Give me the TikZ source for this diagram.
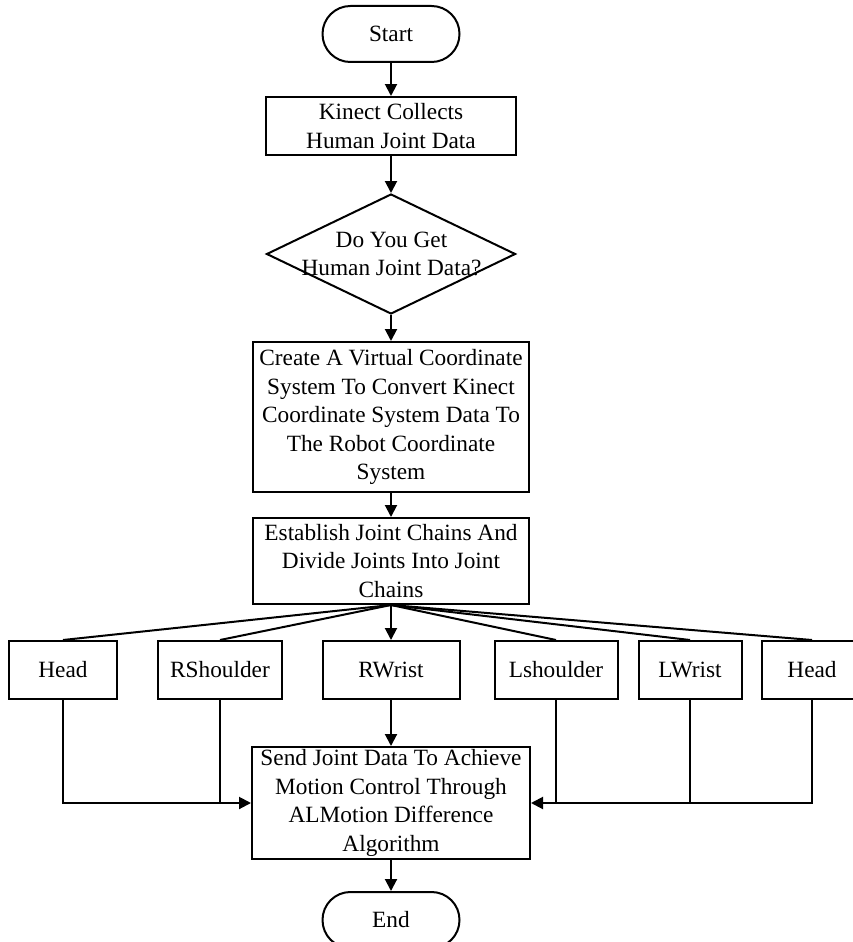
\documentclass[tikz,border=0pt]{standalone}
\usepackage{fontspec}
\setmainfont{Liberation Serif}
\usetikzlibrary{arrows.meta,shapes.geometric}
\begin{document}
\begin{tikzpicture}[x=1pt,y=1pt,
  every node/.style={font=\fontsize{23.3}{28.5}\selectfont},
  line/.style={line width=2pt},
  arr/.style={line width=2pt,-{Triangle[length=12pt,width=12pt]}},
  term/.style={draw,line width=2pt,rounded corners=27.9pt,minimum width=137pt,minimum height=56pt,inner sep=0pt},
  proc/.style={draw,line width=2pt,align=center,inner sep=0pt,minimum height=58pt},
  dec/.style={draw,line width=2pt,diamond,minimum width=249pt,minimum height=120pt,inner sep=0pt},
]
\useasboundingbox (0,0) rectangle (853,-942);
\clip (0,0) rectangle (853,-942);

% main column
\node[term] (start) at (391,-34) {Start};
\node[proc,minimum width=250pt] (kin) at (391,-126) {Kinect Collects\\Human Joint Data};
\node[dec] (ask) at (391,-254) {};
\node[align=center] (asktxt) at (391.5,-254) {Do You Get\\Human Joint Data?};
\node[proc,minimum width=276pt,minimum height=150pt] (conv) at (391,-417)
  {Create A Virtual Coordinate\\System To Convert Kinect\\Coordinate System Data To\\The Robot Coordinate\\System};
\node[proc,minimum width=276pt,minimum height=86pt] (chain) at (391,-561)
  {Establish Joint Chains And\\Divide Joints Into Joint\\Chains};

% joint boxes
\node[proc,minimum width=108pt] (h1) at (63,-670) {Head};
\node[proc,minimum width=124pt] (rs) at (220,-670) {RShoulder};
\node[proc,minimum width=137pt] (rw) at (391,-670) {RWrist};
\node[proc,minimum width=123pt] (ls) at (556,-670) {Lshoulder};
\node[proc,minimum width=103pt] (lw) at (690,-670) {LWrist};
\node[proc,minimum width=100pt] (h2) at (812,-670) {Head};

\node[proc,minimum width=278pt,minimum height=112pt] (send) at (391,-803)
  {Send Joint Data To Achieve\\Motion Control Through\\ALMotion Difference\\Algorithm};
\node[term] (end) at (391,-920) {End};

% flow arrows
\draw[arr] (start) -- (kin);
\draw[arr] (kin) -- (ask);
\draw[arr] (ask) -- (conv);
\draw[arr] (conv) -- (chain);
\draw[arr] (chain.south) -- (rw.north);
\draw[arr] (rw) -- (send);
\draw[arr] (send) -- (end);

% fan-out from the chain box
\foreach \b in {h1,rs,ls,lw,h2}
  \draw[line] (chain.south) -- (\b.north);

% merging into the send box
\draw[arr] (h1.south) |- (send.west);
\draw[line] (rs.south) -- (rs.south |- send.west);
\draw[arr] (h2.south) |- (send.east);
\draw[line] (ls.south) -- (ls.south |- send.east);
\draw[line] (lw.south) -- (lw.south |- send.east);
\end{tikzpicture}
\end{document}
